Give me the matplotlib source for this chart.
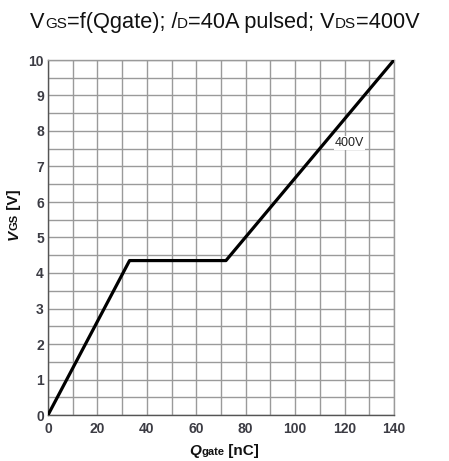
import matplotlib
matplotlib.use("Agg")
import matplotlib.pyplot as plt
import numpy as np

# data
q_gate = [0, 33, 72, 140]
v_gs = [0, 4.35, 4.35, 10]
x_ticks = [0, 20, 40, 60, 80, 100, 120, 140]
y_ticks = [0, 1, 2, 3, 4, 5, 6, 7, 8, 9, 10]
curve_label = "400V"

plt.rcParams['font.family'] = ['Liberation Sans', 'DejaVu Sans']

W, H = 449, 461
fig = plt.figure(figsize=(W/100, H/100), dpi=100)
ax = fig.add_axes([48/W, 1-415/H, 346/W, 355/H])

ax.plot(q_gate, v_gs, color='black', lw=2.3, solid_capstyle='round', zorder=3)
ax.set_xlim(0, 140)
ax.set_ylim(0, 10)
ax.set_xticks(x_ticks)
ax.set_yticks(y_ticks)
ax.set_xticks(np.arange(0, 141, 10), minor=True)
ax.set_yticks(np.arange(0, 10.01, 0.5), minor=True)
ax.grid(which='both', color='#9a9a9a', lw=1.0)
ax.tick_params(which='both', length=0)
ax.tick_params(axis='both', labelsize=10, colors='#3c3c44')
ax.tick_params(axis='x', pad=5)
ax.tick_params(axis='y', pad=3)
for lab in ax.get_xticklabels() + ax.get_yticklabels():
    lab.set_fontweight('bold')
for s in ax.spines.values():
    s.set_color('#9a9a9a')
    s.set_linewidth(1.0)
ax.spines['left'].set_color('#555555')
ax.spines['bottom'].set_color('#555555')

ax.text(116, 7.66, curve_label, fontsize=9, color='#222222', va='center', ha='left',
        bbox=dict(facecolor='white', edgecolor='none', pad=0.5), zorder=4)

fig.canvas.draw()
renderer = fig.canvas.get_renderer()

def draw_pieces(pieces, x0, y0, color):
    objs, widths = [], []
    for t, size, kw in pieces:
        o = fig.text(0, 0, t, fontsize=size, va='baseline', ha='left', color=color, **kw)
        bb = o.get_window_extent(renderer)
        widths.append(bb.width / fig.bbox.width)
        objs.append(o)
    x = x0 - sum(widths)/2
    for o, w in zip(objs, widths):
        o.set_position((x, y0))
        x += w
    return objs

def vertical_pieces(pieces, x, ycenter, color):
    objs, hs = [], []
    for t, size, kw in pieces:
        o = fig.text(x, 0, t, fontsize=size, rotation=90, ha='left', va='baseline',
                     rotation_mode='anchor', color=color, **kw)
        bb = o.get_window_extent(renderer)
        hs.append(bb.height / fig.bbox.height)
        objs.append(o)
    y = ycenter - sum(hs)/2
    for o, h in zip(objs, hs):
        o.set_position((x, y))
        y += h
    return objs

# title
draw_pieces([("V", 15.7, {}), ("GS", 11, {}), ("=f(Qgate); /", 15.7, {}), ("D", 11, {}),
             ("=40A pulsed; V", 15.7, {}), ("DS", 11, {}), ("=400V", 15.7, {})],
            225/W, 1-28/H, '#111111')

# x label
draw_pieces([("Q", 11, {'fontweight': 'bold', 'fontstyle': 'italic'}),
             ("gate", 8, {'fontweight': 'bold'}),
             (" [nC]", 11, {'fontweight': 'bold'})],
            224/W, 1-455/H, '#111111')

# y label
vertical_pieces([("V", 11, {'fontweight': 'bold', 'fontstyle': 'italic'}),
                 ("GS", 8, {'fontweight': 'bold'}),
                 (" [V]", 11, {'fontweight': 'bold'})], 18/W, 1-215/H, '#111111')

fig.savefig("out.png", dpi=100)
